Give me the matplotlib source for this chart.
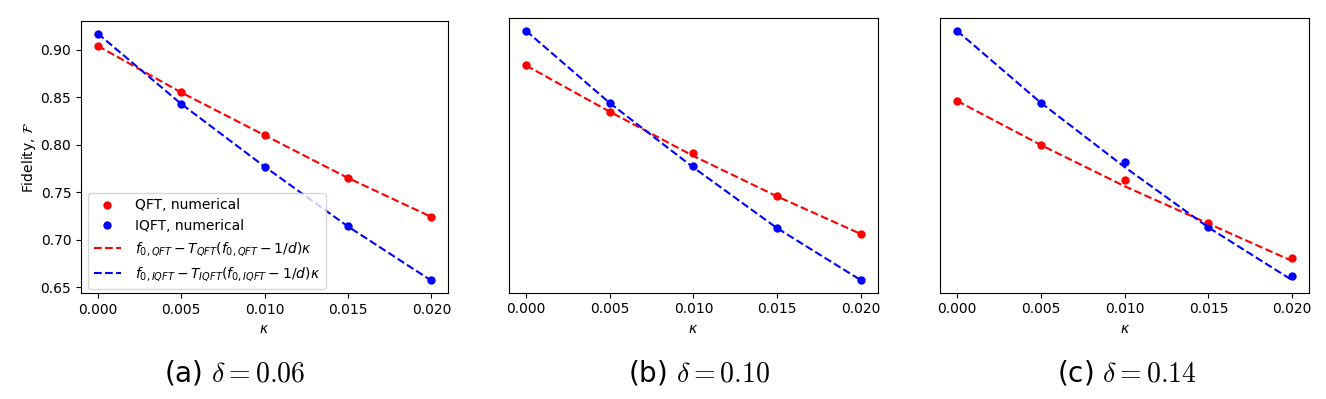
import matplotlib.pyplot as plt

# kappa values and fidelities
kappa = [0.0, 0.005, 0.010, 0.015, 0.020]

# (a) delta = 0.06
qft_a = [0.904, 0.855, 0.810, 0.765, 0.724]
iqft_a = [0.917, 0.843, 0.777, 0.714, 0.658]
qft_fit_a = [0.904, 0.855, 0.810, 0.765, 0.724]
iqft_fit_a = [0.917, 0.843, 0.777, 0.714, 0.657]

# (b) delta = 0.10
qft_b = [0.881, 0.833, 0.790, 0.745, 0.706]
iqft_b = [0.917, 0.842, 0.777, 0.712, 0.658]
qft_fit_b = [0.881, 0.833, 0.787, 0.745, 0.706]
iqft_fit_b = [0.917, 0.842, 0.775, 0.712, 0.658]

# (c) delta = 0.14
qft_c = [0.844, 0.798, 0.762, 0.717, 0.680]
iqft_c = [0.917, 0.842, 0.780, 0.713, 0.661]
qft_fit_c = [0.844, 0.798, 0.755, 0.716, 0.677]
iqft_fit_c = [0.917, 0.842, 0.775, 0.712, 0.657]

captions = ['(a) ', '(b) ', '(c) ']
deltas = [r'$\delta = 0.06$', r'$\delta = 0.10$', r'$\delta = 0.14$']

panels = [
    (qft_a, iqft_a, qft_fit_a, iqft_fit_a),
    (qft_b, iqft_b, qft_fit_b, iqft_fit_b),
    (qft_c, iqft_c, qft_fit_c, iqft_fit_c),
]

boxes = [
    [0.0611, 0.2657, 0.2768, 0.6813],
    [0.3841, 0.2664, 0.2778, 0.6876],
    [0.7091, 0.2664, 0.2781, 0.6876],
]
caption_x = [0.1772, 0.5271, 0.8499]

fig = plt.figure(figsize=(13.26, 3.99), dpi=100)

for i, (q, iq, qf, iqf) in enumerate(panels):
    ax = fig.add_axes(boxes[i])
    ax.plot(kappa, q, 'o', color='red', markersize=5, label='QFT, numerical')
    ax.plot(kappa, iq, 'o', color='blue', markersize=5, label='IQFT, numerical')
    ax.plot(kappa, qf, '--', color='red',
            label=r'$f_{0,QFT} - T_{QFT}(f_{0,QFT} - 1/d)\kappa$')
    ax.plot(kappa, iqf, '--', color='blue',
            label=r'$f_{0,IQFT} - T_{IQFT}(f_{0,IQFT} - 1/d)\kappa$')
    ax.set_xticks(kappa)
    ax.set_xticklabels(['0.000', '0.005', '0.010', '0.015', '0.020'])
    ax.set_xlabel(r'$\kappa$')
    if i == 0:
        ax.set_ylabel(r'Fidelity, $\mathcal{F}$', labelpad=2)
        ax.set_yticks([0.65, 0.70, 0.75, 0.80, 0.85, 0.90])
        ax.legend(loc='lower left', fontsize=10, handletextpad=1.0,
                  bbox_to_anchor=(0.0, -0.01))
    else:
        ax.set_yticks([])

    # subfigure caption below each panel
    fig.text(caption_x[i], 0.065, captions[i] + deltas[i], ha='center', va='center',
             fontsize=20, math_fontfamily='cm')

fig.savefig('out.png', dpi=100)
